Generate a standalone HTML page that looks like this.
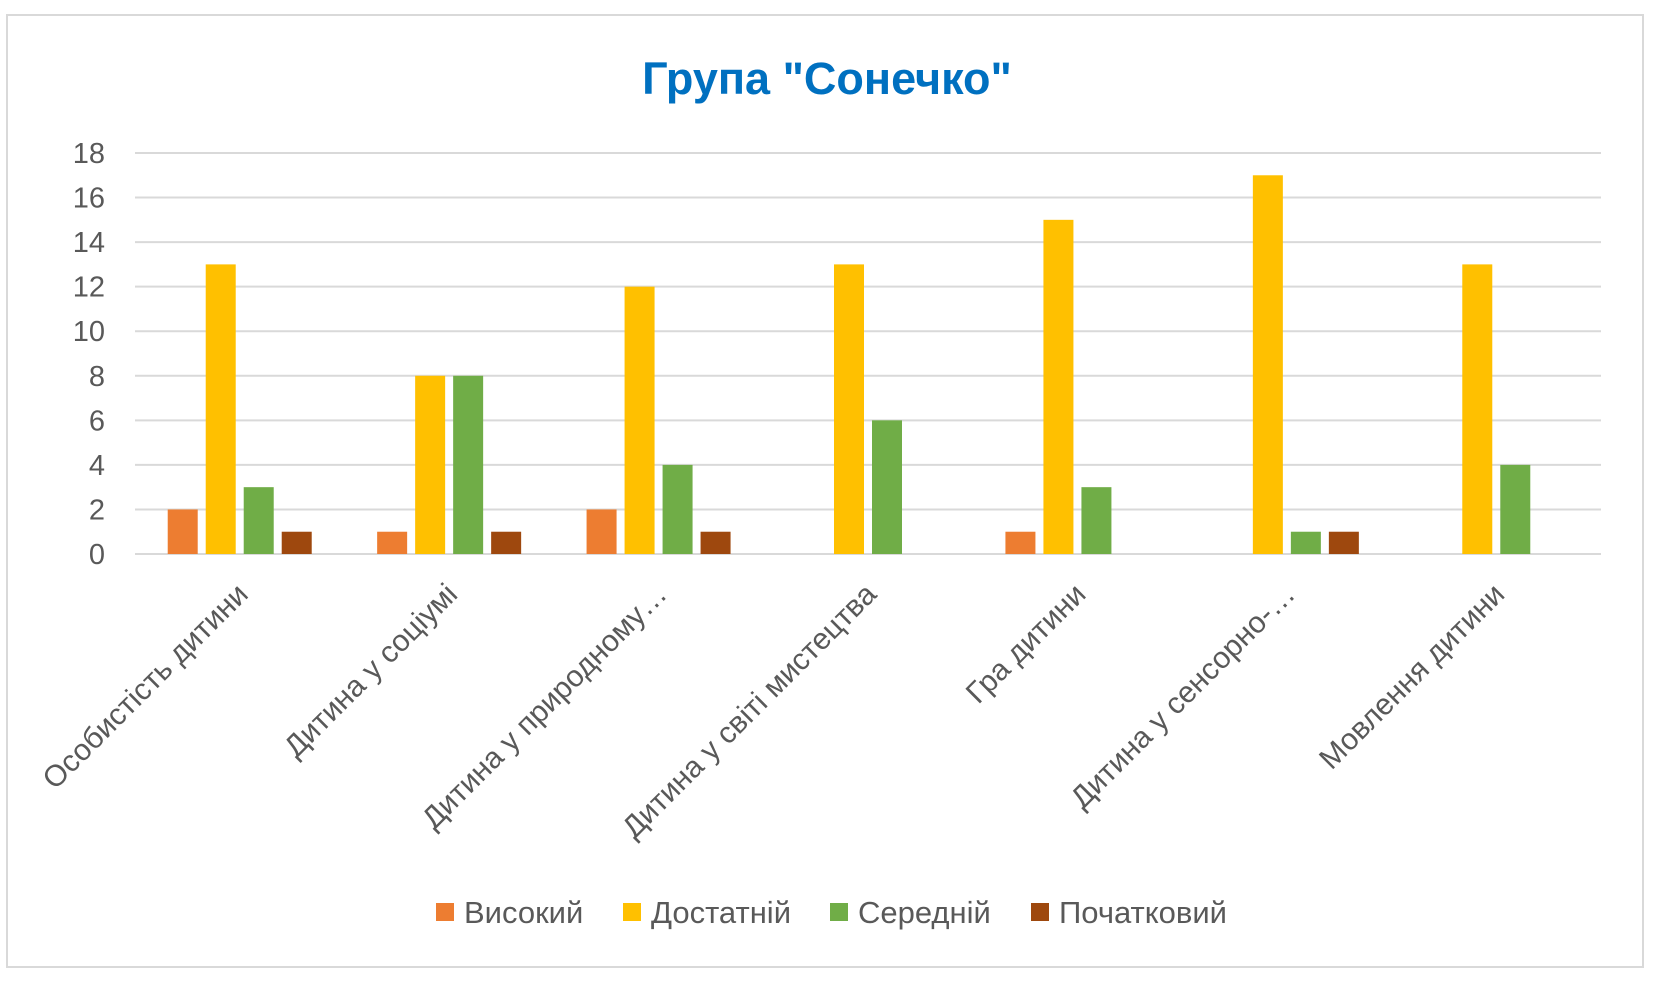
<!DOCTYPE html>
<html><head><meta charset="utf-8"><style>
body{margin:0;background:#fff;width:1679px;height:992px;overflow:hidden;font-family:"Liberation Sans","DejaVu Sans",sans-serif}
</style></head><body>
<svg width="1679" height="992" xmlns="http://www.w3.org/2000/svg">
<rect x="7" y="15" width="1636" height="952" fill="#fff" stroke="#d9d9d9" stroke-width="2"/>
<text x="827" y="94" text-anchor="middle" font-size="45" font-weight="bold" fill="#0070c0">Група "Сонечко"</text>
<g id="grid"></g><g id="bars"></g><g id="xl"></g><g id="legend"></g>
</svg>
<script>
const categories=["Особистість дитини","Дитина у соціумі","Дитина у природному…","Дитина у світі мистецтва","Гра дитини","Дитина у сенсорно-…","Мовлення дитини"];
const seriesNames=["Високий","Достатній","Середній","Початковий"];
const colors=["#ed7d31","#ffc000","#70ad47","#9e480e"];
const vHigh=[2,1,2,0,1,0,0];
const vSuff=[13,8,12,13,15,17,13];
const vMid=[3,8,4,6,3,1,4];
const vInit=[1,1,1,0,0,1,0];
const yTicks=[0,2,4,6,8,10,12,14,16,18];
const series=[vHigh,vSuff,vMid,vInit];
const NS="http://www.w3.org/2000/svg";
const L=135,R=1601,Y0=554,Y18=153;
const y=v=>Y0-(v/18)*(Y0-Y18);
const cw=(R-L)/categories.length;
const xc=i=>L+cw*(i+0.5);
function mk(t,a,p){const e=document.createElementNS(NS,t);for(const k in a)e.setAttribute(k,a[k]);p.appendChild(e);return e;}
const g=document.getElementById('grid');
yTicks.forEach(t=>{
 const l=mk('line',{x1:L,x2:R,y1:y(t),y2:y(t),stroke:'#d9d9d9','stroke-width':2},g);
 
 
 const tx=mk('text',{x:105,y:y(t)+10,'text-anchor':'end','font-size':29,fill:'#595959'},g);
 tx.textContent=t;
 
 
});
const b=document.getElementById('bars');
const bw=30,step=38;
categories.forEach((c,i)=>{
 series.forEach((s,j)=>{
  if(s[i]<=0)return;
  const x=xc(i)-2*step+j*step+4;
  const r=mk('rect',{x:x,y:y(s[i]),width:bw,height:Y0-y(s[i]),fill:colors[j]},b);
  
  
 });
});
const xl=document.getElementById('xl');
categories.forEach((c,i)=>{
 const ax=xc(i)+10,ay=596;
 const t=mk('text',{x:ax,y:ay,'text-anchor':'end','font-size':30,fill:'#595959',transform:`rotate(-45 ${ax} ${ay})`},xl);
 t.textContent=c;
 
 
});
const lg=document.getElementById('legend');
const lx=[436,623,830,1031];
seriesNames.forEach((n,j)=>{
 const r=mk('rect',{x:lx[j],y:903,width:18,height:18,fill:colors[j]},lg);
 
 
 const t=mk('text',{x:lx[j]+28,y:923,'font-size':31,fill:'#595959'},lg);
 t.textContent=n;
 
 
});
</script>
</body></html>
